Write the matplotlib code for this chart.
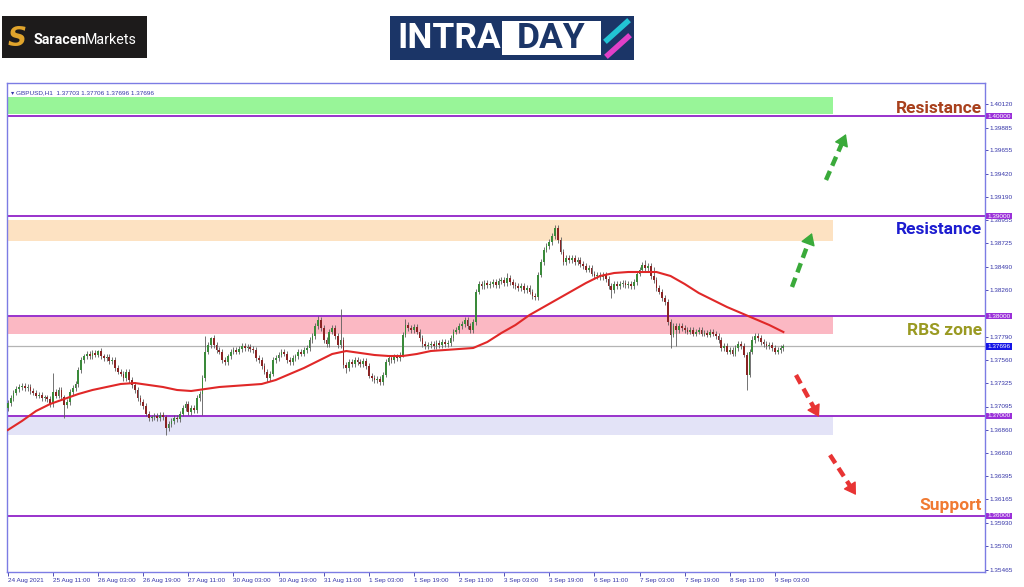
import matplotlib
matplotlib.use("Agg")
import matplotlib.pyplot as plt
from matplotlib.patches import Rectangle

W, H = 1024, 587

# GBPUSD H1 closes, one per bar (opens = previous close)
closes = [
    1.3713, 1.3718, 1.3723, 1.3727, 1.3729, 1.3730, 1.3728, 1.3729, 1.3725, 1.3723,
    1.3720, 1.3721, 1.3718, 1.3719, 1.3717, 1.3712, 1.3724, 1.3720, 1.3726, 1.3719,
    1.3711, 1.3714, 1.3724, 1.3728, 1.3732, 1.3746, 1.3756, 1.3760, 1.3762, 1.3760,
    1.3763, 1.3761, 1.3765, 1.3760, 1.3758, 1.3759, 1.3755, 1.3756, 1.3748, 1.3744,
    1.3742, 1.3738, 1.3744, 1.3736, 1.3731, 1.3726, 1.3718, 1.3714, 1.3710, 1.3702,
    1.3698, 1.3699, 1.3700, 1.3698, 1.3701, 1.3699, 1.3688, 1.3692, 1.3695, 1.3698,
    1.3697, 1.3702, 1.3708, 1.3712, 1.3704, 1.3708, 1.3706, 1.3718, 1.3722, 1.3738,
    1.3764, 1.3771, 1.3778, 1.3771, 1.3766, 1.3764, 1.3756, 1.3754, 1.3760, 1.3764,
    1.3766, 1.3764, 1.3767, 1.3770, 1.3768, 1.3769, 1.3767, 1.3766, 1.3758, 1.3756,
    1.3750, 1.3744, 1.3738, 1.3742, 1.3756, 1.3758, 1.3761, 1.3764, 1.3762, 1.3756,
    1.3754, 1.3758, 1.3760, 1.3764, 1.3762, 1.3766, 1.3768, 1.3776, 1.3780, 1.3790,
    1.3796, 1.3788, 1.3776, 1.3772, 1.3784, 1.3788, 1.3780, 1.3771, 1.3776, 1.3751,
    1.3748, 1.3754, 1.3752, 1.3756, 1.3754, 1.3752, 1.3755, 1.3750, 1.3740, 1.3738,
    1.3736, 1.3737, 1.3734, 1.3741, 1.3754, 1.3758, 1.3756, 1.3760, 1.3758, 1.3761,
    1.3781, 1.3791, 1.3788, 1.3786, 1.3789, 1.3784, 1.3778, 1.3772, 1.3770, 1.3771,
    1.3772, 1.3770, 1.3773, 1.3771, 1.3774, 1.3772, 1.3773, 1.3778, 1.3784, 1.3786,
    1.3790, 1.3792, 1.3796, 1.3790, 1.3786, 1.3794, 1.3824, 1.3832, 1.3830, 1.3833,
    1.3831, 1.3832, 1.3834, 1.3831, 1.3835, 1.3836, 1.3833, 1.3838, 1.3834, 1.3831,
    1.3830, 1.3828, 1.3830, 1.3826, 1.3828, 1.3824, 1.3820, 1.3819, 1.3841, 1.3854,
    1.3866, 1.3870, 1.3874, 1.3880, 1.3888, 1.3876, 1.3864, 1.3854, 1.3858, 1.3856,
    1.3858, 1.3854, 1.3856, 1.3852, 1.3850, 1.3846, 1.3848, 1.3842, 1.3840, 1.3841,
    1.3839, 1.3841, 1.3837, 1.3830, 1.3826, 1.3832, 1.3830, 1.3832, 1.3833, 1.3831,
    1.3832, 1.3830, 1.3834, 1.3842, 1.3846, 1.3851, 1.3848, 1.3850, 1.3840, 1.3836,
    1.3828, 1.3824, 1.3818, 1.3814, 1.3794, 1.3781, 1.3790, 1.3786, 1.3790, 1.3788,
    1.3786, 1.3784, 1.3786, 1.3782, 1.3784, 1.3786, 1.3782, 1.3783, 1.3781, 1.3784,
    1.3782, 1.3780, 1.3776, 1.3768, 1.3770, 1.3764, 1.3766, 1.3762, 1.3768, 1.3772,
    1.3770, 1.3761, 1.3741, 1.3764, 1.3776, 1.3780, 1.3778, 1.3774, 1.3772, 1.3770,
    1.3771, 1.3768, 1.3764, 1.3766, 1.3768, 1.37696,
]
first_open = 1.3708
# long wicks
spike_high = {16: 1.3743, 32: 1.3766, 70: 1.3780, 72: 1.3779, 110: 1.3800, 118: 1.3807,
              141: 1.3797, 177: 1.3843, 194: 1.3891, 226: 1.3856, 229: 1.3849, 264: 1.3780}
spike_low = {20: 1.3698, 56: 1.3681, 69: 1.3701, 92: 1.3734, 120: 1.3743, 132: 1.3731,
             187: 1.3816, 214: 1.3818, 235: 1.3768, 237: 1.3770, 262: 1.3726}

# moving average, every 5 bars
ma_idx = list(range(0, 276, 5))
ma_vals = [
    1.3686, 1.3695, 1.3705, 1.3712, 1.3717, 1.3722, 1.3726, 1.3729, 1.3732, 1.3733,
    1.3731, 1.3729, 1.3726, 1.3725, 1.3727, 1.3729, 1.3730, 1.3731, 1.3732, 1.3736,
    1.3742, 1.3748, 1.3755, 1.3762, 1.3765, 1.3763, 1.3761, 1.3760, 1.3760, 1.3762,
    1.3765, 1.3766, 1.3767, 1.3768, 1.3774, 1.3783, 1.3791, 1.3801, 1.3809, 1.3817,
    1.3825, 1.3833, 1.3840, 1.3843, 1.3844, 1.3844, 1.3844, 1.3840, 1.3832, 1.3823,
    1.3816, 1.3809, 1.3803, 1.3797, 1.3791, 1.3784,
]

time_labels = ["24 Aug 2021", "25 Aug 11:00", "26 Aug 03:00", "26 Aug 19:00", "27 Aug 11:00",
               "30 Aug 03:00", "30 Aug 19:00", "31 Aug 11:00", "1 Sep 03:00", "1 Sep 19:00",
               "2 Sep 11:00", "3 Sep 03:00", "3 Sep 19:00", "6 Sep 11:00", "7 Sep 03:00",
               "7 Sep 19:00", "8 Sep 11:00", "9 Sep 03:00"]
time_ticks = list(range(0, 273, 16))
# 1.38030 sits under the 1.38000 box in the original, so left out
price_ticks = [1.35465, 1.35700, 1.35930, 1.36165, 1.36395, 1.36630, 1.36860, 1.37095,
               1.37325, 1.37560, 1.37790, 1.38260, 1.38490, 1.38725, 1.38955,
               1.39190, 1.39420, 1.39655, 1.39885, 1.40120]

levels = [1.40, 1.39, 1.38, 1.37, 1.36]
last_price = 1.37696
zone_lo = [1.4002, 1.3875, 1.3782, 1.3681]
zone_hi = [1.4019, 1.3896, 1.3799, 1.3700]
zone_colors = ["#98f598", "#fde2c2", "#fbb8c3", "#e3e3f7"]

notes = ["Resistance", "Resistance", "RBS zone", "Support"]
note_y = [1.4003, 1.3882, 1.3781, 1.3606]
note_colors = ["#a8401c", "#1c1cd0", "#9a9a22", "#f07a32"]

BULL, BEAR, WICK_C = "#3a8a3a", "#8a2424", "#5c5c5c"
WICK = 0.00025
ZONE_END = 292.7
FRAME = "#7c7ce4"
TXT = "#3434a8"

plt.rcParams["font.family"] = ["Liberation Sans", "DejaVu Sans"]

fig = plt.figure(figsize=(W / 100, H / 100), dpi=100)
fig.patch.set_facecolor("white")
ax = fig.add_axes([7 / W, 1 - 572 / H, 978 / W, 489 / H])


def px(x, y):
    return x / W, 1 - y / H


# candles
opens = [first_open] + closes[:-1]
idx = list(range(len(closes)))
his, los, bots, hts, cols = [], [], [], [], []
for i, o, c in zip(idx, opens, closes):
    his.append(spike_high.get(i, max(o, c) + WICK))
    los.append(spike_low.get(i, min(o, c) - WICK))
    bots.append(min(o, c))
    hts.append(max(abs(c - o), 0.00005))
    cols.append(BULL if c >= o else BEAR)
ax.vlines(idx, los, his, color=WICK_C, lw=0.6, zorder=3)
ax.bar(idx, hts, bottom=bots, width=0.62, color=cols, lw=0, zorder=4)

ax.plot(ma_idx, ma_vals, color="#e02828", lw=1.5, zorder=5)

# zones and levels
for lo, hi, zc in zip(zone_lo, zone_hi, zone_colors):
    ax.fill_between([-0.3, ZONE_END], lo, hi, color=zc, lw=0, zorder=0.5)
for lv in levels:
    ax.axhline(lv, color="#9932cc", lw=1.4, zorder=2)
ax.axhline(last_price, color="#b4b4b4", lw=0.9, zorder=1.5)

ax.set_xlim(-0.3, 346.5)
ax.set_ylim(1.3544, 1.4033)
for s in ax.spines.values():
    s.set_color(FRAME)
    s.set_linewidth(1.0)

ax.yaxis.tick_right()
ax.set_yticks(price_ticks, [f"{p:.5f}" for p in price_ticks])
ax.tick_params(axis="y", length=2, width=0.6, pad=1.5, labelsize=4.6, colors=TXT)
ax.set_xticks(time_ticks, time_labels)
ax.tick_params(axis="x", length=3, width=0.6, pad=1.5, labelsize=4.6, colors=TXT)
for lbl in ax.get_xticklabels():
    lbl.set_ha("left")

ytr = ax.get_yaxis_transform()
for lv in levels:
    ax.text(1.0025, lv, f"{lv:.5f}", transform=ytr, fontsize=4.6, color="white",
            ha="left", va="center", zorder=10,
            bbox=dict(boxstyle="square,pad=0.15", fc="#9b30d9", ec="none"))
ax.text(1.0025, last_price, f"{last_price:.5f}", transform=ytr, fontsize=4.6, color="white",
        ha="left", va="center", zorder=10,
        bbox=dict(boxstyle="square,pad=0.15", fc="#1414e6", ec="none"))

ax.text(0.004, 0.985, "\u25be GBPUSD,H1  1.37703 1.37706 1.37696 1.37696",
        transform=ax.transAxes, fontsize=4.6, color=TXT, va="top", ha="left")

for t, yv, nc in zip(notes, note_y, note_colors):
    ax.text(0.997, yv, t, transform=ytr, ha="right", va="baseline", fontsize=12.5,
            fontweight="bold", family="Roboto", color=nc, zorder=10)

# dashed arrows (screen pixel coords)
arrows = [((826, 180), (846, 134), "#3aaa3a"), ((792, 287), (812, 233), "#3aaa3a"),
          ((796, 375), (819, 417), "#e83434"), ((830, 455), (856, 495), "#e83434")]
for (x0, y0), (x1, y1), ac in arrows:
    mx, my = x0 + (x1 - x0) * 0.82, y0 + (y1 - y0) * 0.82
    fig.add_artist(plt.Line2D([x0 / W, mx / W], [1 - y0 / H, 1 - my / H], color=ac, lw=3.2,
                              ls=(0, (2.2, 1.3)), transform=fig.transFigure))
    ax.annotate("", xy=px(x1, y1), xytext=px(mx, my), xycoords="figure fraction",
                textcoords="figure fraction",
                arrowprops=dict(arrowstyle="-|>,head_length=0.8,head_width=0.5", color=ac,
                                lw=1, shrinkA=0, shrinkB=0, mutation_scale=9))

# logos
fig.add_artist(Rectangle(px(2, 58), 145 / W, 42 / H, transform=fig.transFigure,
                         fc="#1d1b1b", ec="none"))
fig.text(*px(17, 39), "S", fontsize=19, fontweight="bold", style="italic", color="#e0a42c",
         ha="center", va="center", family="DejaVu Sans")
t1 = fig.text(*px(34, 40), "Saracen", fontsize=10.3, fontweight="bold", color="white",
              va="center", family="Roboto")
fig.canvas.draw()
bb = t1.get_window_extent()
fig.text((bb.x1 - 2) / W, 1 - 40 / H, "Markets", fontsize=10.3, color="white", va="center",
         family="Roboto")

fig.add_artist(Rectangle(px(390, 60), 244 / W, 44 / H, transform=fig.transFigure,
                         fc="#1b3567", ec="none"))
fig.text(*px(397, 39), "INTRA", fontsize=25.5, fontweight="bold", color="white",
         va="center", family="Roboto")
fig.add_artist(Rectangle(px(502, 55), 99 / W, 34 / H, transform=fig.transFigure,
                         fc="white", ec="none"))
fig.text(*px(551, 39), "DAY", fontsize=25.5, fontweight="bold", color="#1b3567",
         va="center", ha="center", family="Roboto")
fig.add_artist(plt.Line2D([607 / W, 627 / W], [1 - 40 / H, 1 - 22 / H], color="#22c4d4",
                          lw=4, transform=fig.transFigure))
fig.add_artist(plt.Line2D([628 / W, 608 / W], [1 - 37 / H, 1 - 55 / H], color="#e040c8",
                          lw=4, transform=fig.transFigure))
ax.annotate("", xy=px(632, 17), xytext=px(622, 27), xycoords="figure fraction",
            textcoords="figure fraction",
            arrowprops=dict(arrowstyle="-|>", color="#22c4d4", lw=1, mutation_scale=12))
ax.annotate("", xy=px(603, 60), xytext=px(613, 50), xycoords="figure fraction",
            textcoords="figure fraction",
            arrowprops=dict(arrowstyle="-|>", color="#e040c8", lw=1, mutation_scale=12))

fig.savefig("out.png", dpi=100)
